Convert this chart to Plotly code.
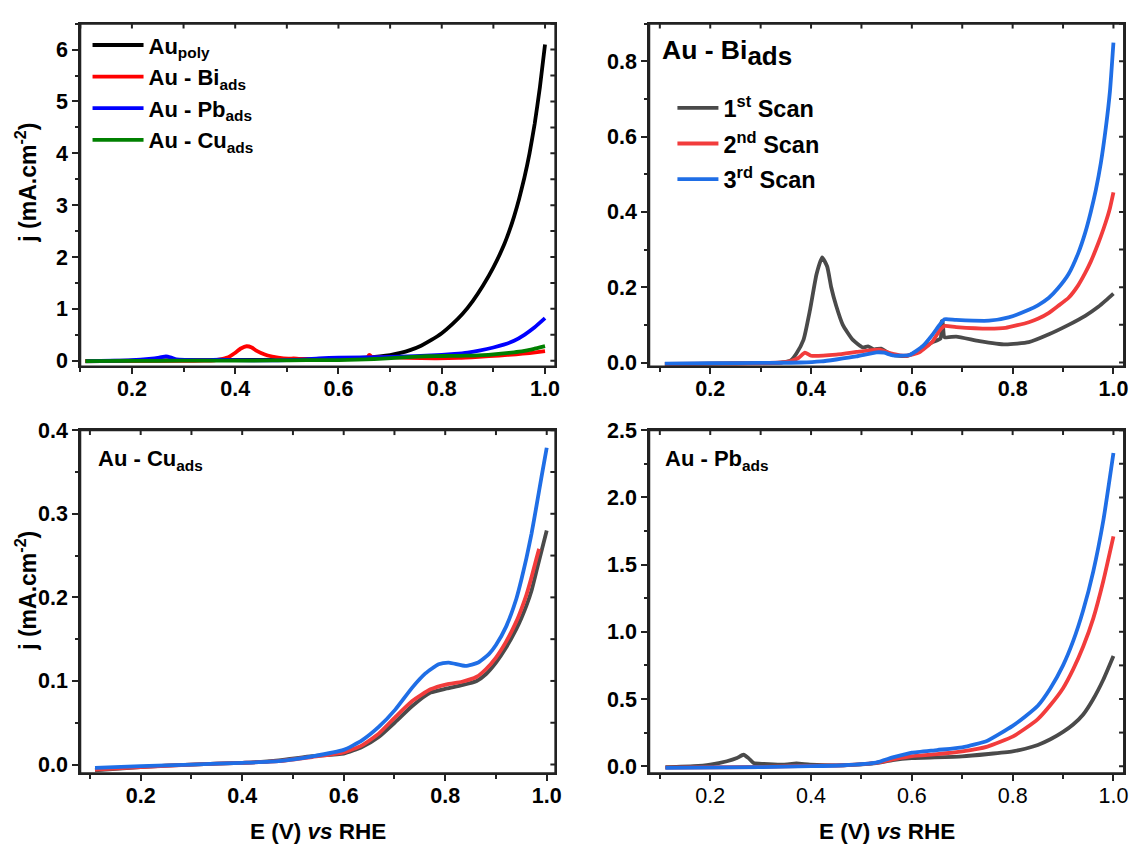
import plotly.graph_objects as go

W, H = 1136, 849
FONT = "Liberation Sans"

# ---------------- data ----------------
# Au poly (panel a)
E_poly = [0.11, 0.2, 0.3, 0.4, 0.5, 0.55, 0.6, 0.65, 0.68, 0.7, 0.72, 0.74, 0.76, 0.78, 0.8,
          0.82, 0.84, 0.86, 0.88, 0.9, 0.92, 0.93, 0.94, 0.95, 0.96, 0.97, 0.98, 0.99, 1.0]
j_poly = [-0.01, 0.0, 0.01, 0.015, 0.02, 0.025, 0.035, 0.06, 0.085, 0.11, 0.15, 0.21, 0.29, 0.4, 0.53,
          0.7, 0.9, 1.15, 1.45, 1.8, 2.22, 2.48, 2.78, 3.13, 3.53, 4.0, 4.57, 5.27, 6.1]

# Au - Bi_ads, scans 1-3
E_bi1 = [0.11, 0.15, 0.2, 0.25, 0.3, 0.34, 0.36, 0.371, 0.385, 0.398, 0.411, 0.422, 0.432, 0.44,
         0.45, 0.463, 0.483, 0.503, 0.513, 0.525, 0.539, 0.55, 0.562, 0.589, 0.615, 0.641, 0.657,
         0.659, 0.661, 0.665, 0.688, 0.734, 0.786, 0.832, 0.872, 0.911, 0.944, 0.97, 0.985, 1.0]
j_bi1 = [-0.004, -0.004, -0.003, -0.002, -0.001, 0.0, 0.006, 0.024, 0.06, 0.14, 0.235, 0.279, 0.255,
         0.2, 0.15, 0.1, 0.06, 0.04, 0.043, 0.035, 0.037, 0.028, 0.02, 0.017, 0.033, 0.054, 0.064,
         0.11, 0.108, 0.067, 0.069, 0.057, 0.048, 0.054, 0.075, 0.1, 0.124, 0.148, 0.165, 0.183]

E_bi2 = [0.11, 0.2, 0.3, 0.34, 0.36, 0.375, 0.388, 0.4, 0.45, 0.49, 0.52, 0.536, 0.562, 0.589,
         0.615, 0.641, 0.655, 0.665, 0.688, 0.753, 0.786, 0.832, 0.85, 0.872, 0.89, 0.911, 0.93,
         0.944, 0.955, 0.965, 0.975, 0.985, 0.993, 1.0]
j_bi2 = [-0.004, -0.003, -0.002, 0.0, 0.004, 0.012, 0.026, 0.018, 0.021, 0.028, 0.033, 0.034, 0.023,
         0.018, 0.027, 0.056, 0.085, 0.097, 0.094, 0.09, 0.092, 0.107, 0.116, 0.132, 0.15, 0.172,
         0.205, 0.238, 0.268, 0.3, 0.335, 0.374, 0.41, 0.452]

E_bi3 = [0.11, 0.2, 0.3, 0.38, 0.42, 0.45, 0.49, 0.53, 0.545, 0.562, 0.595, 0.622, 0.641, 0.655,
         0.665, 0.688, 0.753, 0.792, 0.832, 0.85, 0.872, 0.89, 0.911, 0.93, 0.944, 0.955, 0.965,
         0.975, 0.985, 0.993, 1.0]
j_bi3 = [-0.003, -0.002, -0.001, 0.0, 0.003, 0.008, 0.016, 0.027, 0.026, 0.019, 0.02, 0.044, 0.074,
         0.1, 0.115, 0.113, 0.111, 0.12, 0.14, 0.152, 0.172, 0.197, 0.235, 0.29, 0.345, 0.4, 0.458,
         0.53, 0.625, 0.72, 0.85]

# Au - Cu_ads, scans 1-3
E_cu1 = [0.11, 0.2, 0.3, 0.4, 0.472, 0.538, 0.6, 0.636, 0.669, 0.702, 0.735, 0.771, 0.803, 0.833,
         0.862, 0.88, 0.9, 0.92, 0.94, 0.95, 0.96, 0.97, 0.98, 0.99, 1.0]
j_cu1 = [-0.007, -0.003, 0.0, 0.002, 0.005, 0.01, 0.013, 0.021, 0.033, 0.051, 0.07, 0.086, 0.091,
         0.095, 0.1, 0.108, 0.122, 0.14, 0.162, 0.175, 0.19, 0.208, 0.232, 0.256, 0.28]

E_cu2 = [0.11, 0.2, 0.3, 0.4, 0.472, 0.538, 0.6, 0.636, 0.669, 0.702, 0.735, 0.771, 0.803, 0.833,
         0.862, 0.88, 0.9, 0.92, 0.94, 0.95, 0.96, 0.97, 0.98, 0.985]
j_cu2 = [-0.006, -0.003, 0.0, 0.002, 0.004, 0.009, 0.0145, 0.023, 0.037, 0.057, 0.076, 0.09, 0.096,
         0.099, 0.105, 0.114, 0.128, 0.147, 0.171, 0.186, 0.203, 0.224, 0.247, 0.258]

E_cu3 = [0.11, 0.2, 0.3, 0.4, 0.472, 0.538, 0.6, 0.636, 0.669, 0.702, 0.735, 0.761, 0.787, 0.807,
         0.84, 0.865, 0.886, 0.9, 0.92, 0.94, 0.95, 0.96, 0.97, 0.98, 0.99, 1.0]
j_cu3 = [-0.004, -0.002, 0.0, 0.002, 0.004, 0.0098, 0.0175, 0.029, 0.045, 0.066, 0.092, 0.109, 0.12,
         0.122, 0.118, 0.122, 0.132, 0.143, 0.165, 0.198, 0.221, 0.247, 0.276, 0.31, 0.345, 0.379]

# Au - Pb_ads, scans 1-3
E_pb1 = [0.111, 0.167, 0.2, 0.233, 0.253, 0.266, 0.276, 0.286, 0.306, 0.345, 0.371, 0.398, 0.464,
         0.529, 0.562, 0.6, 0.7, 0.8, 0.825, 0.85, 0.875, 0.9, 0.92, 0.94, 0.96, 0.98, 1.0]
j_pb1 = [-0.007, 0.0, 0.012, 0.037, 0.061, 0.085, 0.06, 0.024, 0.017, 0.012, 0.02, 0.012, 0.007,
         0.022, 0.045, 0.06, 0.073, 0.11, 0.13, 0.158, 0.2, 0.255, 0.31, 0.385, 0.5, 0.645, 0.82]

E_pb2 = [0.111, 0.3, 0.4, 0.464, 0.529, 0.562, 0.6, 0.65, 0.7, 0.75, 0.8, 0.825, 0.85, 0.875, 0.9,
         0.92, 0.94, 0.96, 0.98, 1.0]
j_pb2 = [-0.01, -0.006, 0.003, 0.007, 0.024, 0.05, 0.075, 0.09, 0.11, 0.146, 0.22, 0.28, 0.35,
         0.455, 0.58, 0.72, 0.89, 1.1, 1.38, 1.71]

E_pb3 = [0.111, 0.3, 0.4, 0.464, 0.529, 0.562, 0.59, 0.6, 0.65, 0.7, 0.75, 0.8, 0.825, 0.85, 0.875,
         0.9, 0.92, 0.94, 0.96, 0.98, 1.0]
j_pb3 = [-0.012, -0.007, 0.0, 0.007, 0.027, 0.065, 0.092, 0.1, 0.12, 0.14, 0.19, 0.3, 0.37, 0.45,
         0.58, 0.75, 0.93, 1.16, 1.45, 1.83, 2.33]

# tick labels / names
names_a = ["Au<sub>poly</sub>", "Au - Bi<sub>ads</sub>", "Au - Pb<sub>ads</sub>", "Au - Cu<sub>ads</sub>"]
names_scan = ["1<sup>st</sup> Scan", "2<sup>nd</sup> Scan", "3<sup>rd</sup> Scan"]

# ---------------- figure ----------------
fig = go.Figure()

col_a = ["#000000", "#ff0000", "#0000ff", "#008000"]
col_s = ["#4a4a4a", "#f23c3c", "#1f6ee6"]
LW = 3.8

def add(x, y, color, ax, name=None, legend=None, show=False):
    fig.add_trace(go.Scatter(
        x=x, y=y, mode="lines", name=name,
        line=dict(color=color, width=LW, shape="spline", smoothing=0.5),
        xaxis="x" + ax, yaxis="y" + ax,
        showlegend=show, legend=legend, legendgroup=name))

# panel a
add(E_poly, j_poly, col_a[0], "", names_a[0], "legend", True)
add(E_bi1, j_bi1, col_a[1], "", names_a[1], "legend", True)
add(E_pb1, j_pb1, col_a[2], "", names_a[2], "legend", True)
add(E_cu1, j_cu1, col_a[3], "", names_a[3], "legend", True)
# panel b (Bi)
add(E_bi1, j_bi1, col_s[0], "2", names_scan[0], "legend2", True)
add(E_bi2, j_bi2, col_s[1], "2", names_scan[1], "legend2", True)
add(E_bi3, j_bi3, col_s[2], "2", names_scan[2], "legend2", True)
# panel c (Cu)
add(E_cu1, j_cu1, col_s[0], "3")
add(E_cu2, j_cu2, col_s[1], "3")
add(E_cu3, j_cu3, col_s[2], "3")
# panel d (Pb)
add(E_pb1, j_pb1, col_s[0], "4")
add(E_pb2, j_pb2, col_s[1], "4")
add(E_pb3, j_pb3, col_s[2], "4")

LC = "#222222"
AW = 2
TS = 21.5
tf_bold = dict(family=FONT, size=TS, color="black", weight="bold")
tf_norm = dict(family=FONT, size=TS, color="black")

xl_px = (80.7, 558.3)
xr_px = (652.7, 1130.0)
yt_px = (13.0, 364.0)
yb_px = (429.3, 780.7)
xl = [xl_px[0] / W, xl_px[1] / W]
xr = [xr_px[0] / W, xr_px[1] / W]
yt = [1 - yt_px[1] / H, 1 - yt_px[0] / H]
yb = [1 - yb_px[1] / H, 1 - yb_px[0] / H]

panels = [
    # suffix, xdom, ydom, xrange, yrange, ydtick, yminor, yfmt, xfont, pixel size (w, h)
    ("", xl, yt, [0.1, 1.02], [-0.11, 6.5], 1, 0.5, "d", tf_bold,
     (xl_px[1] - xl_px[0], yt_px[1] - yt_px[0])),
    ("2", xr, yt, [0.079, 1.021], [-0.0104, 0.9], 0.2, 0.1, ".1f", tf_bold,
     (xr_px[1] - xr_px[0], yt_px[1] - yt_px[0])),
    ("3", xl, yb, [0.081, 1.017], [-0.0105, 0.4], 0.1, 0.05, ".1f", tf_bold,
     (xl_px[1] - xl_px[0], yb_px[1] - yb_px[0])),
    ("4", xr, yb, [0.079, 1.021], [-0.053, 2.5], 0.5, 0.25, ".1f", tf_norm,
     (xr_px[1] - xr_px[0], yb_px[1] - yb_px[0])),
]

lay = {}
shapes = []
IN_LEN = 5.0
for i, (s, xd, yd, xrg, yrg, ydt, ymn, yfmt, xfont, (pw, ph)) in enumerate(panels):
    lay["xaxis" + s] = dict(domain=xd, range=xrg, anchor="y" + s, dtick=0.2, tick0=0,
                            tickformat=".1f", ticks="outside", ticklen=6, tickwidth=AW,
                            tickcolor=LC, showline=True, mirror=True, linecolor=LC,
                            linewidth=AW, showgrid=False, zeroline=False, tickfont=xfont,
                            ticklabelstandoff=-4,
                            minor=dict(dtick=0.1, tick0=0, ticks="outside", ticklen=3.5,
                                       tickwidth=AW, tickcolor=LC, showgrid=False))
    lay["yaxis" + s] = dict(domain=yd, range=yrg, anchor="x" + s, dtick=ydt, tick0=0,
                            tickformat=yfmt, ticks="outside", ticklen=6, tickwidth=AW,
                            tickcolor=LC, showline=True, mirror=True, linecolor=LC,
                            linewidth=AW, showgrid=False, zeroline=False, tickfont=tf_bold,
                            minor=dict(dtick=ymn, tick0=0, ticks="outside", ticklen=3.5,
                                       tickwidth=AW, tickcolor=LC, showgrid=False))
    xref = "x" + s
    yref = "y" + s
    # closed frame box in paper coordinates
    shapes.append(dict(type="rect", xref="paper", yref="paper", x0=xd[0], x1=xd[1],
                       y0=yd[0], y1=yd[1], fillcolor="rgba(0,0,0,0)",
                       line=dict(color=LC, width=AW), layer="above"))
    # inward-pointing ticks on the top / right frame (axis decoration)
    k = 1
    while k * 0.1 <= xrg[1] + 1e-9:
        t = round(k * 0.1, 3)
        if t >= xrg[0]:
            shapes.append(dict(type="line", xref=xref, yref="paper", x0=t, x1=t,
                               y0=yd[1], y1=yd[1] - IN_LEN / H, line=dict(color=LC, width=AW)))
        k += 1
    k = 0
    while k * ymn <= yrg[1] + 1e-9:
        t = round(k * ymn, 4)
        shapes.append(dict(type="line", xref="paper", yref=yref, x0=xd[1],
                           x1=xd[1] - IN_LEN / W, y0=t, y1=t, line=dict(color=LC, width=AW)))
        k += 1

def bold(size):
    return dict(family=FONT, size=size, color="black", weight="bold")

annotations = [
    dict(text="Au - Bi<sub><span style='font-size:26px'>ads</span></sub>", x=664 / W, y=1 - 43 / H,
         xref="paper", yref="paper", xanchor="left", yanchor="middle", showarrow=False,
         font=bold(26.5)),
    dict(text="Au - Cu<sub>ads</sub>", x=97 / W, y=1 - 460 / H, xref="paper", yref="paper",
         xanchor="left", yanchor="middle", showarrow=False, font=bold(22)),
    dict(text="Au - Pb<sub>ads</sub>", x=667 / W, y=1 - 460 / H, xref="paper", yref="paper",
         xanchor="left", yanchor="middle", showarrow=False, font=bold(22)),
    dict(text="j (mA.cm<sup>-2</sup>)", textangle=-90, x=26 / W, y=1 - 176 / H, xref="paper",
         yref="paper", xanchor="center", yanchor="middle", showarrow=False, font=bold(23)),
    dict(text="j (mA.cm<sup>-2</sup>)", textangle=-90, x=26 / W, y=1 - 594 / H, xref="paper",
         yref="paper", xanchor="center", yanchor="middle", showarrow=False, font=bold(23)),
    dict(text="E (V) <i>vs</i> RHE", x=(xl[0] + xl[1]) / 2, y=1 - 840 / H, xref="paper",
         yref="paper", xanchor="center", yanchor="middle", showarrow=False, font=bold(22.5)),
    dict(text="E (V) <i>vs</i> RHE", x=(xr[0] + xr[1]) / 2, y=1 - 840 / H, xref="paper",
         yref="paper", xanchor="center", yanchor="middle", showarrow=False, font=bold(22.5)),
]

fig.update_layout(
    width=W, height=H, margin=dict(l=0, r=0, t=0, b=0),
    paper_bgcolor="white", plot_bgcolor="white",
    font=dict(family=FONT, color="black"),
    annotations=annotations,
    shapes=shapes,
    legend=dict(x=88 / W, y=1 - 13.5 / H, xanchor="left", yanchor="top",
                bgcolor="rgba(0,0,0,0)", font=bold(22), itemwidth=51, tracegroupgap=0),
    legend2=dict(x=676 / W, y=1 - 77 / H, xanchor="left", yanchor="top",
                 bgcolor="rgba(0,0,0,0)", font=bold(23.5), itemwidth=41, tracegroupgap=2),
    **lay,
)

fig.write_html("out.html", config={"displayModeBar": False},
               post_script="document.body.style.margin='0';"
                           "document.documentElement.style.overflow='hidden';")
